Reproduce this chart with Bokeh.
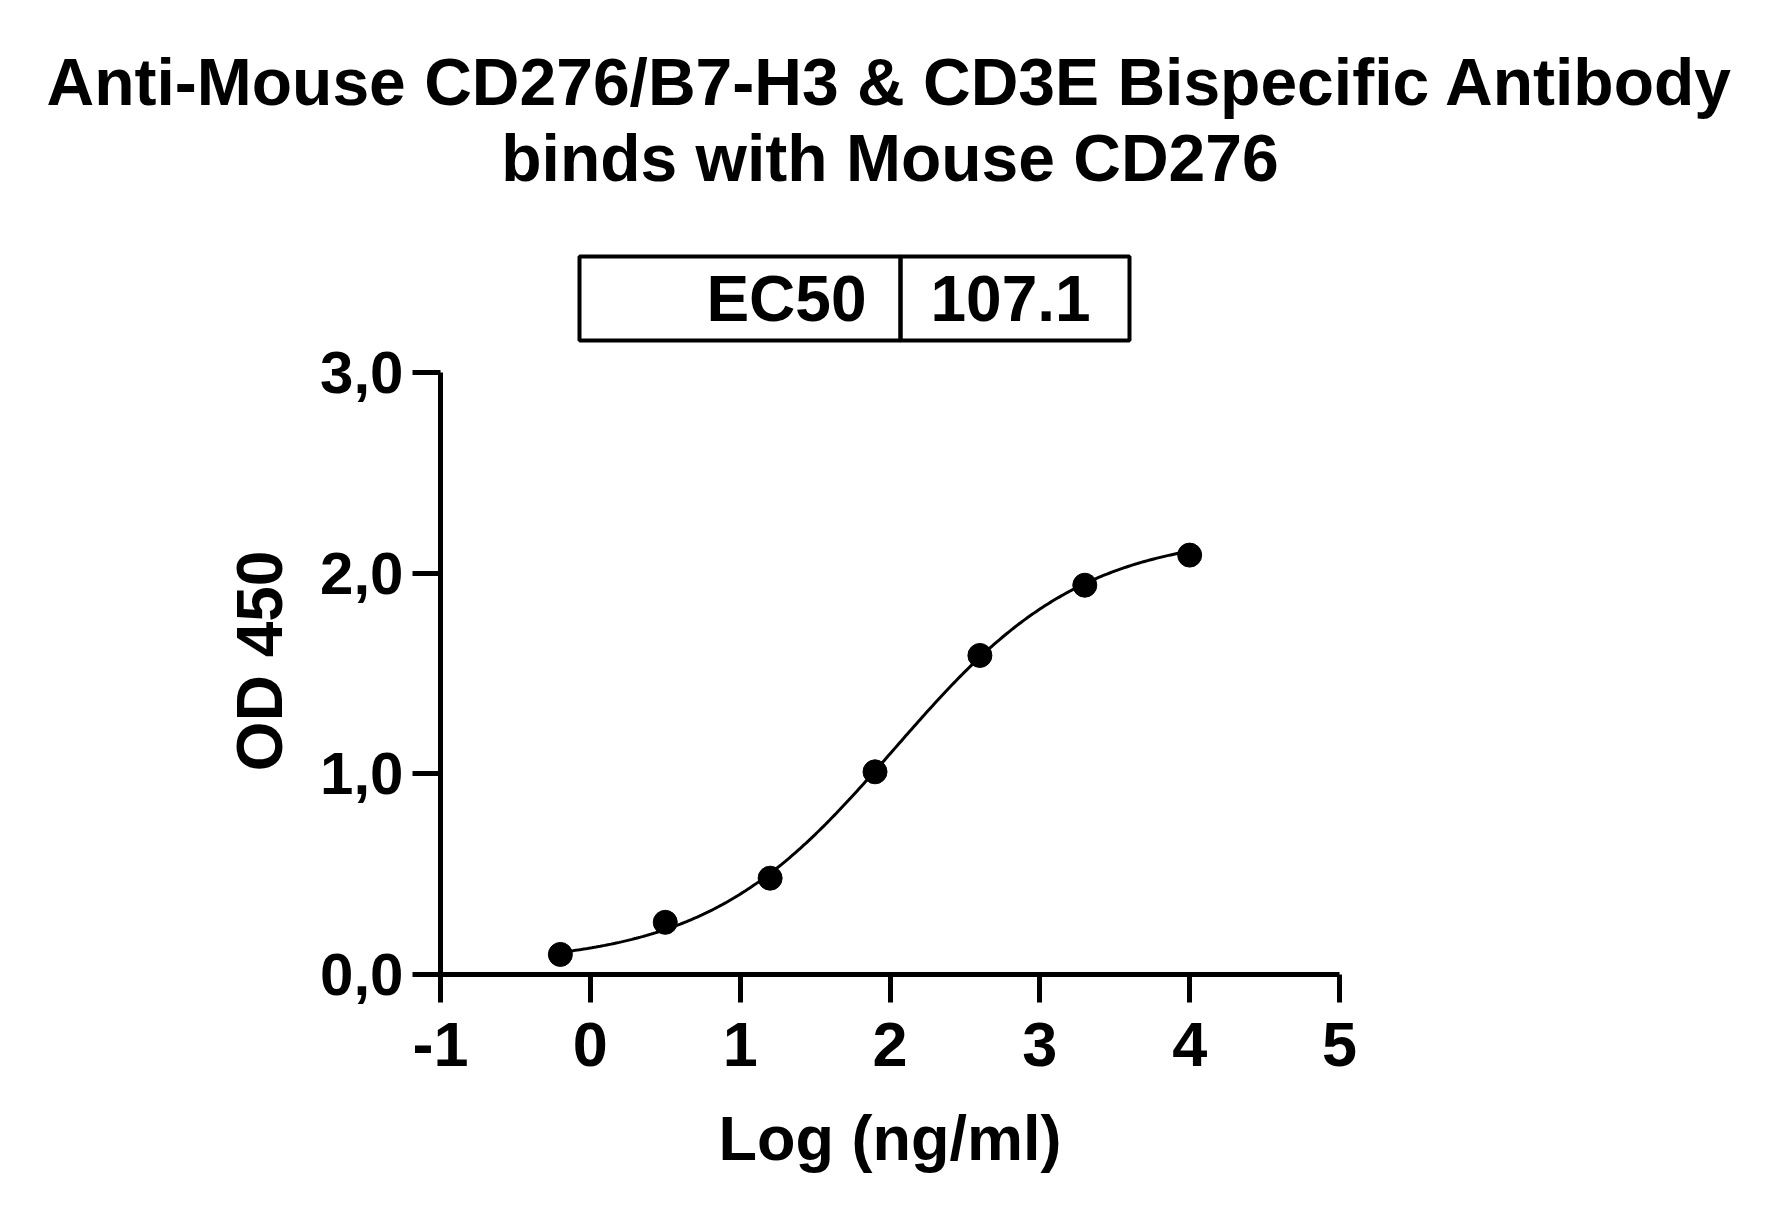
import numpy as np
from bokeh.plotting import figure
from bokeh.models import Range1d, Title, FixedTicker
from bokeh.core.properties import value
from bokeh.embed import file_html
from bokeh.resources import INLINE

# ---------------- data ----------------
title_lines = ["Anti-Mouse CD276/B7-H3 & CD3E Bispecific Antibody",
               "binds with Mouse CD276"]
log_conc = [-0.2, 0.5, 1.2, 1.9, 2.6, 3.3, 4.0]
od450 = [0.10, 0.26, 0.48, 1.01, 1.59, 1.94, 2.09]
x_ticks = [-1, 0, 1, 2, 3, 4, 5]
x_tick_labels = ["-1", "0", "1", "2", "3", "4", "5"]
y_ticks = [0, 1, 2, 3]
y_tick_labels = ["0,0", "1,0", "2,0", "3,0"]
x_title = "Log (ng/ml)"
y_title = "OD 450"
ec50_name = "EC50"
ec50_value = "107.1"
# four-parameter logistic fit (EC50 from the table)
fit_bottom = 0.05
fit_top = 2.2
fit_hill = 0.69
fit_log_ec50 = np.log10(107.1)

FONT = "Liberation Sans"
W, H = 1763, 1204
FL, FR, FB = 440, 1339, 974     # frame left/right/bottom (canvas px)
Y3 = 372                        # canvas px of y = 3.0
FT = 240                        # frame top (room for the EC50 table)
PX_X = (FR - FL) / 6.0
PX_Y = (FB - Y3) / 3.0
y_top = (FB - FT) / PX_Y

def dx(px):
    return -1 + (px - FL) / PX_X

def dy(py):
    return (FB - py) / PX_Y

p = figure(width=W, height=H, output_backend="svg", toolbar_location=None,
           x_range=Range1d(-1, 5), y_range=Range1d(0, y_top),
           min_border_left=FL, min_border_right=W - FR,
           min_border_top=FT, min_border_bottom=H - FB,
           background_fill_color="white", border_fill_color="white",
           outline_line_color=None)
p.xgrid.visible = False
p.ygrid.visible = False

# axes styling
for ax in (p.xaxis[0], p.yaxis[0]):
    ax.axis_line_width = 5
    ax.axis_line_color = "black"
    ax.major_tick_line_width = 5
    ax.major_tick_line_color = "black"
    ax.major_tick_out = 28
    ax.major_tick_in = 0
    ax.minor_tick_line_color = None
    ax.major_label_text_font = FONT
    ax.major_label_text_font_style = "bold"
    ax.major_label_text_color = "black"
    ax.axis_label_text_font = FONT
    ax.axis_label_text_font_style = "bold"
    ax.axis_label_text_color = "black"

p.xaxis[0].ticker = FixedTicker(ticks=x_ticks)
p.xaxis[0].major_label_overrides = {t: l for t, l in zip(x_ticks, x_tick_labels)}
p.xaxis[0].major_label_text_font_size = "63px"
p.xaxis[0].major_label_standoff = 20
p.xaxis[0].axis_label = x_title
p.xaxis[0].axis_label_text_font_size = "63px"
p.xaxis[0].axis_label_standoff = 34

p.yaxis[0].ticker = FixedTicker(ticks=y_ticks)
p.yaxis[0].bounds = (0, 3)
p.yaxis[0].major_label_overrides = {t: l for t, l in zip(y_ticks, y_tick_labels)}
p.yaxis[0].major_label_text_font_size = "60px"
p.yaxis[0].major_label_standoff = 9
# trailing no-break spaces keep the title centred on the 0..3 span of the axis
p.yaxis[0].axis_label = y_title + "\u00a0" * 6
p.yaxis[0].axis_label_text_font_size = "64px"
p.yaxis[0].axis_label_standoff = 21

# fitted curve and points
xc = np.linspace(min(log_conc), max(log_conc), 300)
yc = fit_bottom + (fit_top - fit_bottom) / (1 + 10 ** ((fit_log_ec50 - xc) * fit_hill))
p.line(xc, yc, line_color="black", line_width=3)
p.scatter(log_conc, od450, size=24, fill_color="black", line_color="black")

# title (two lines; later-added sits higher)
p.add_layout(Title(text=title_lines[1], align="center", text_font=FONT,
                   text_font_style="bold", text_font_size="66px",
                   text_color="black", standoff=92), "above")
p.add_layout(Title(text=title_lines[0], align="center", text_font=FONT,
                   text_font_style="bold", text_font_size="66px",
                   text_color="black", standoff=-92), "above")

# EC50 table box
bx = [579, 900, 1129]
by = [256, 340]
p.quad(left=[dx(bx[0]), dx(bx[1])], right=[dx(bx[1]), dx(bx[2])],
       top=[dy(by[0])] * 2, bottom=[dy(by[1])] * 2,
       fill_color=None, line_color="black", line_width=4)
p.text(x=[dx(866)], y=[dy(298)], text=[ec50_name], text_align="right",
       text_baseline="middle", text_font=value(FONT),
       text_font_style="bold", text_font_size="64px", text_color="black")
p.text(x=[dx(930)], y=[dy(298)], text=[ec50_value], text_align="left",
       text_baseline="middle", text_font=value(FONT),
       text_font_style="bold", text_font_size="64px", text_color="black")

open("out.html", "w").write(file_html(p, INLINE))
